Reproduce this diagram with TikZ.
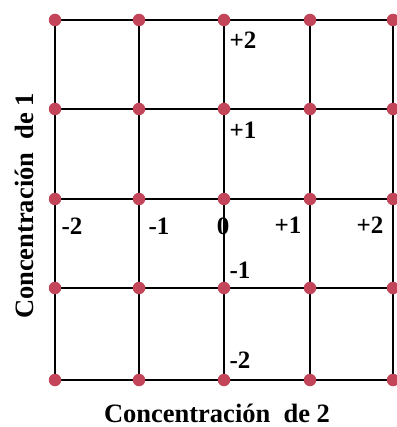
\documentclass[tikz,border=0pt]{standalone}
\usepackage{fontspec}
\setmainfont{Liberation Serif}
\definecolor{dotred}{RGB}{195,69,89}
\begin{document}
\begin{tikzpicture}[x=1pt,y=-1pt,
  gridline/.style={line width=1.7pt,black},
  dot/.style={circle,fill=dotred,inner sep=0pt,minimum size=12.5pt},
  lab/.style={font=\fontsize{25}{27}\selectfont\bfseries,inner sep=0pt},
  axtitle/.style={font=\fontsize{26.5}{28}\selectfont\bfseries,inner sep=0pt}]
\useasboundingbox (0,0) rectangle (396,427);
% grid coordinates
\foreach \i/\x in {0/55,1/139,2/224,3/310,4/393}{
  \foreach \j/\y in {0/20,1/109,2/199,3/288,4/380}{
    \coordinate (g-\i-\j) at (\x,\y);
  }
}
% grid lines
\foreach \k in {0,...,4}{
  \draw[gridline] (g-0-\k) -- (g-4-\k);
  \draw[gridline] (g-\k-0) -- (g-\k-4);
}
% dots
\foreach \i in {0,...,4}{
  \foreach \j in {0,...,4}{
    \node[dot] (d-\i-\j) at (g-\i-\j) {};
  }
}
% vertical axis labels
\node[lab] (v2) at (243,40) {+2};
\node[lab] (v1) at (243,130) {+1};
\node[lab] (vm1) at (240,270) {-1};
\node[lab] (vm2) at (240,360) {-2};
% horizontal axis labels
\node[lab] (hm2) at (72,226) {-2};
\node[lab] (hm1) at (159,226) {-1};
\node[lab] (h0) at (223,226) {0};
\node[lab] (h1) at (288,225) {+1};
\node[lab] (h2) at (370,225) {+2};
% axis titles
\node[axtitle] (tx) at (217,413) {Concentración\ \ de 2};
\node[axtitle,rotate=90] (ty) at (24,206) {Concentración\ \ de 1};
\end{tikzpicture}
\end{document}
